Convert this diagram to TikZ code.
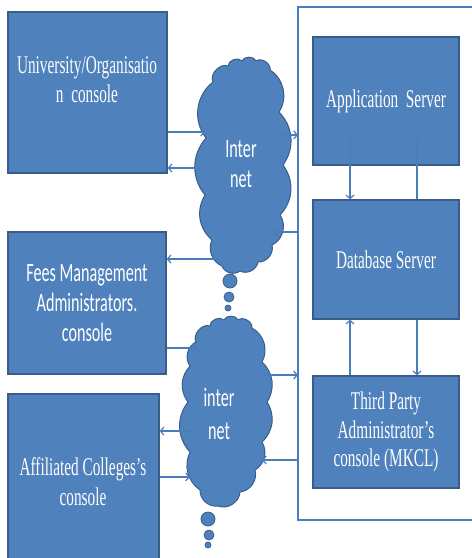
\documentclass[tikz,border=0pt]{standalone}
\usepackage{fontspec}
\usetikzlibrary{arrows.meta}
\newfontfamily\tnrfont[FakeStretch=0.6]{Liberation Serif}
\newfontfamily\calfont[FakeStretch=0.61]{Carlito}
\definecolor{boxfill}{HTML}{4F81BD}
\definecolor{boxline}{HTML}{385D8A}
\definecolor{arrline}{HTML}{4A7EBB}
\begin{document}
\begin{tikzpicture}[x=1pt,y=-1pt,
  box/.style={draw=boxline, line width=1.3pt, fill=boxfill, inner sep=0pt},
  frameline/.style={draw=arrline, line width=1.2pt},
  cloudshape/.style={draw=boxline, line width=1pt, fill=boxfill},
  bub/.style={circle, draw=boxline, line width=0.8pt, fill=boxfill, inner sep=0pt},
  serif/.style={text=white, font=\tnrfont\fontsize{25.5}{29}\selectfont, align=center},
  sans/.style={text=white, font=\calfont\fontsize{26.5}{30}\selectfont, align=center},
  arr/.style={draw=arrline, line width=1.2pt, -{Straight Barb[length=3.5pt,width=8pt]}},
  puff/.style={bend left=#1}
]
\useasboundingbox (0,0) rectangle (472,558);

% outer frame (cut off at the right)
\coordinate (fnw) at (298,7);
\coordinate (fsw) at (298,520);
\draw[frameline] (472,7) -- (fnw) -- (fsw) -- (472,520);

% left consoles
\node[box, minimum width=159pt, minimum height=161pt] (univ) at (87.5,92.5) {};
\node[box, minimum width=158pt, minimum height=142pt, sans] (fees) at (87,303) {Fees Management\\Administrators.\\console};
\node[box, minimum width=151pt, minimum height=168pt] (aff) at (83.5,478) {};
\node[serif] (univt) at (87,80) {University/Organisatio\\n\ \ console};
\node[serif, font=\tnrfont\fontsize{25.5}{30}\selectfont] (afft) at (83,482) {Affiliated Colleges’s\\console};

% servers
\node[box, minimum width=146pt, minimum height=128pt, serif] (app) at (386,101) {Application\ \ Server};
\node[box, minimum width=146pt, minimum height=119pt, serif] (db) at (386,259.5) {Database Server};
\node[box, minimum width=146pt, minimum height=112pt, serif, font=\tnrfont\fontsize{25.5}{28.5}\selectfont] (third) at (386,432) {Third Party\\Administrator’s\\console (MKCL)};

% cloud 1
\draw[cloudshape] (213,82) to[puff=70] (228,66) to[puff=70] (242,61) to[puff=70] (256,61)
  to[puff=70] (270,70) to[puff=45] (279,112) to[puff=40] (283,165) to[puff=40] (280,215)
  to[puff=50] (272,245) to[puff=55] (258,262) to[puff=55] (240,271) to[puff=55] (222,266)
  to[puff=45] (212,240) to[puff=40] (205,195) to[puff=40] (206,138) to[puff=45] (213,82) -- cycle;
\node[bub, minimum size=14pt] (b11) at (230,281) {};
\node[bub, minimum size=10pt] (b12) at (229,297) {};
\node[bub, minimum size=6pt] (b13) at (228,308) {};
% cloud 2
\draw[cloudshape] (196,342) to[puff=70] (210,326) to[puff=70] (224,320) to[puff=70] (238,320)
  to[puff=70] (252,328) to[puff=45] (262,362) to[puff=40] (267,402) to[puff=40] (262,442)
  to[puff=45] (255,470) to[puff=50] (240,492) to[puff=55] (218,506) to[puff=50] (200,490)
  to[puff=40] (190,452) to[puff=40] (188,402) to[puff=40] (190,366) to[puff=50] (196,342) -- cycle;
\node[bub, minimum size=14pt] (b21) at (208,519) {};
\node[bub, minimum size=10pt] (b22) at (209,535) {};
\node[bub, minimum size=6pt] (b23) at (208,545) {};
\node[sans, font=\calfont\fontsize{26.5}{30}\selectfont] (c1t) at (241,164) {Inter\\net};
\node[sans, font=\calfont\fontsize{26.5}{33}\selectfont] (c2t) at (219,414) {inter\\net};

% arrow ends on the clouds
\coordinate (p1) at (205,132);
\coordinate (p2) at (206,168);
\coordinate (p3) at (282,135);
\coordinate (p4) at (273,232);
\coordinate (p5) at (219,259);
\coordinate (p6) at (197,348);
\coordinate (p7) at (265,375);
\coordinate (p8) at (262,460);
\coordinate (p9) at (195,431);
\coordinate (p10) at (190,477);

\draw[arr] (univ.east |- p1) -- (p1);
\draw[arr] (p2) -- (univ.east |- p2);
\draw[arr] (p3) -- (fnw |- p3);
\draw[arr] (fnw |- p4) -- (p4);
\draw[arr] (p5) -- (fees.east |- p5);
\draw[arr] (fees.east |- p6) -- (p6);
\draw[arr] (p7) -- (fnw |- p7);
\draw[arr] (fnw |- p8) -- (p8);
\draw[arr] (p9) -- (aff.east |- p9);
\draw[arr] (aff.east |- p10) -- (p10);

% server arrows
\coordinate (s1) at (350,133);
\coordinate (s2) at (417,137);
\draw[arr] (s1) -- (db.north -| s1);
\draw[arr] (db.north -| s2) -- (s2);
\draw[arr] (db.south -| s2) -- (third.north -| s2);
\draw[arr] (third.north -| s1) -- (db.south -| s1);
\end{tikzpicture}
\end{document}
